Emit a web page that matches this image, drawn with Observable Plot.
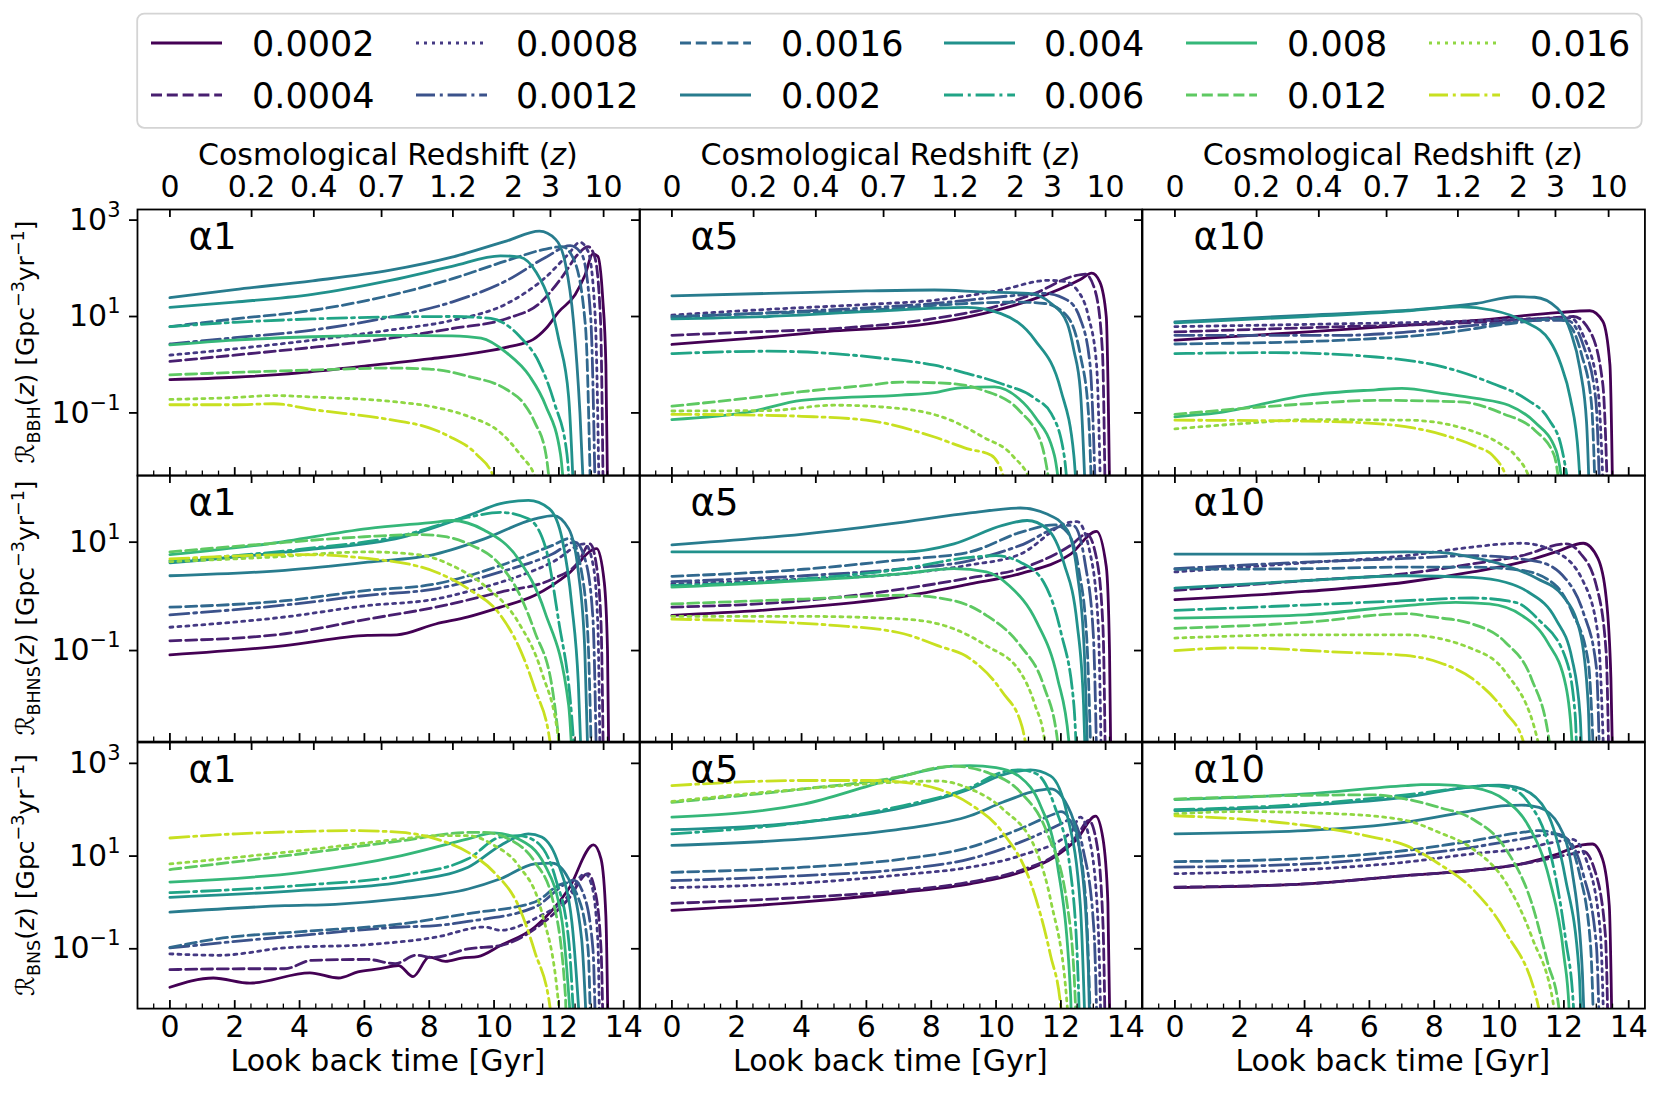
<!DOCTYPE html>
<html><head><meta charset="utf-8">
<script src="https://cdn.jsdelivr.net/npm/d3@7"></script>
<script src="https://cdn.jsdelivr.net/npm/@observablehq/plot@0.6"></script>
<style>
body{margin:0;background:#fff;font-family:"DejaVu Sans",sans-serif;}
#fig{position:relative;width:1661px;height:1094px;overflow:hidden;background:#fff;}
.abs{position:absolute;white-space:nowrap;color:#000;font-family:"DejaVu Sans",sans-serif;line-height:1;}
.panel{position:absolute;}
.rot{transform:translate(-50%,-50%) rotate(-90deg);transform-origin:center center;}
.cen{transform:translate(-50%,-50%);}
sub,sup{font-size:70%;line-height:0;}
</style></head><body><div id="fig"></div>
<script>
// ---------------- data (log10 of merger rate, Gpc^-3 yr^-1) vs look-back time [Gyr] ----------------
const METALLICITY = ["0.0002","0.0004","0.0008","0.0012","0.0016","0.002","0.004","0.006","0.008","0.012","0.016","0.02"];
const ALPHA = ["1","5","10"];
const TYPES = ["BBH","BHNS","BNS"];
const Z_TICK_LABELS = ["0","0.2","0.4","0.7","1.2","2","3","10"];
const Z_TICK_LOOKBACK = [0,2.52,4.44,6.53,8.73,10.6,11.74,13.38];
const T_TICKS = [0,2,4,6,8,10,12,14];

const BBH_a1 = [
 [[0,-0.31],[2,-0.26],[4,-0.17],[6,-0.03],[8,0.12],[9.5,0.25],[10.5,0.38],[11.2,0.52],[11.6,0.75],[12.0,1.1],[12.5,1.45],[12.8,1.85],[13.05,2.3],[13.2,2.25],[13.35,1.4],[13.45,0],[13.52,-3.5]],
 [[0,0.07],[2,0.2],[4.4,0.36],[6.8,0.55],[8.7,0.75],[10.4,0.96],[11.4,1.27],[12.1,1.82],[12.6,2.3],[12.9,2.45],[13.1,2.25],[13.28,1.0],[13.38,-3.5]],
 [[0,0.2],[2,0.33],[4.4,0.51],[6.8,0.72],[8.7,0.92],[10.4,1.27],[11.6,1.82],[12.3,2.3],[12.65,2.54],[12.9,2.35],[13.12,1.0],[13.26,-3.5]],
 [[0,0.43],[2,0.56],[4.4,0.72],[6.8,0.99],[8.7,1.3],[10.4,1.75],[11.6,2.23],[12.35,2.47],[12.7,2.3],[12.98,1.0],[13.14,-3.5]],
 [[0,0.79],[2,0.95],[4.4,1.13],[6.8,1.44],[8.7,1.78],[10.4,2.16],[11.6,2.4],[12.1,2.45],[12.45,2.2],[12.82,0.8],[13.0,-3.5]],
 [[0,1.39],[2,1.56],[4.4,1.74],[6.8,1.96],[8.7,2.23],[10.4,2.57],[11.4,2.77],[11.9,2.6],[12.2,2.1],[12.45,0.9],[12.65,-1.0],[12.82,-3.5]],
 [[0,1.19],[2,1.3],[4.4,1.46],[6.8,1.75],[8.7,2.04],[10.2,2.26],[10.8,2.23],[11.3,1.92],[11.7,1.34],[12.0,0.51],[12.3,-0.66],[12.5,-3.5]],
 [[0,0.79],[2,0.88],[4.4,0.95],[6.8,0.99],[8.7,1.0],[9.9,0.96],[10.8,0.58],[11.4,0.03],[11.86,-0.79],[12.25,-1.86],[12.4,-3.5]],
 [[0,0.41],[2,0.51],[4.4,0.58],[6.8,0.61],[8.7,0.6],[9.6,0.55],[10.4,0.24],[11.1,-0.24],[11.6,-0.86],[12.05,-1.86],[12.25,-3.5]],
 [[0,-0.21],[2,-0.16],[4.4,-0.11],[6.8,-0.07],[8,-0.09],[9.2,-0.24],[10.4,-0.52],[10.9,-0.79],[11.26,-1.2],[11.6,-1.86],[11.85,-3.5]],
 [[0,-0.72],[2,-0.68],[3.2,-0.64],[4.4,-0.67],[6.8,-0.76],[8,-0.86],[9.2,-1.07],[10.2,-1.41],[10.8,-1.86],[11.3,-2.4],[11.5,-3.5]],
 [[0,-0.83],[2,-0.83],[3.2,-0.81],[4.4,-0.93],[6.8,-1.14],[8,-1.31],[8.6,-1.48],[9.46,-1.86],[10.0,-2.35],[10.3,-3.5]]
];
const BBH_a5 = [
 [[0,0.42],[2.5,0.55],[5,0.7],[7.6,0.82],[9.6,1.06],[11.2,1.37],[12.6,1.77],[12.95,1.9],[13.2,1.72],[13.4,1.0],[13.52,-3.5]],
 [[0,0.61],[2.5,0.68],[5,0.75],[8.1,0.96],[10.15,1.24],[11.2,1.48],[12.4,1.84],[12.75,1.88],[13.05,1.55],[13.28,0.3],[13.38,-3.5]],
 [[0,1.03],[3,1.15],[6,1.25],[8.1,1.34],[10.15,1.55],[11.6,1.75],[12.1,1.73],[12.5,1.55],[12.85,1.0],[13.1,0],[13.25,-3.5]],
 [[0,0.98],[3,1.08],[6,1.18],[8.1,1.27],[10.15,1.41],[11.5,1.48],[12.2,1.34],[12.6,0.95],[12.9,0],[13.1,-3.5]],
 [[0,1.0],[3,1.07],[6,1.13],[9.1,1.27],[10.7,1.3],[11.5,1.27],[12.2,1.0],[12.6,0.2],[12.85,-1.0],[12.98,-3.5]],
 [[0,1.43],[3,1.48],[6,1.53],[8.1,1.55],[9.6,1.51],[11.0,1.48],[11.7,1.27],[12.2,0.85],[12.4,0.3],[12.6,-0.53],[12.8,-3.5]],
 [[0,0.95],[3,1.0],[6,1.1],[9.1,1.19],[10.15,1.06],[11.2,0.51],[12.0,-0.53],[12.4,-1.88],[12.55,-3.5]],
 [[0,0.23],[2.95,0.28],[5,0.23],[6.55,0.13],[8.1,-0.01],[9.1,-0.18],[10.15,-0.39],[11.2,-0.7],[11.7,-1.01],[12.1,-1.88],[12.3,-3.5]],
 [[0,-1.14],[2.4,-0.98],[4,-0.74],[7.07,-0.63],[8.1,-0.58],[8.9,-0.48],[9.95,-0.46],[10.7,-0.7],[11.2,-1.08],[11.8,-1.88],[12.1,-3.5]],
 [[0,-0.86],[2,-0.72],[4,-0.56],[6,-0.43],[7.07,-0.36],[8.6,-0.39],[9.6,-0.53],[10.7,-0.94],[11.4,-1.64],[11.85,-3.5]],
 [[0,-0.96],[3,-0.95],[5,-0.84],[7.07,-0.91],[8.6,-1.15],[9.6,-1.5],[10.5,-1.88],[11.1,-2.5],[11.3,-3.5]],
 [[0,-1.03],[2,-1.04],[4,-1.07],[6,-1.15],[8.1,-1.5],[9.1,-1.74],[9.85,-1.88],[10.3,-2.5],[10.5,-3.5]]
];
const BBH_a10 = [
 [[0,0.51],[4.1,0.68],[7.2,0.82],[9.3,0.92],[11.8,1.08],[12.8,1.12],[13.2,0.9],[13.42,0],[13.52,-3.5]],
 [[0,0.68],[5.2,0.79],[8.3,0.85],[11.35,0.96],[12.3,1.0],[12.8,0.7],[13.2,-0.4],[13.38,-3.5]],
 [[0,0.79],[5.2,0.85],[8.3,0.89],[11.35,0.96],[12.2,0.97],[12.6,0.6],[13.05,-0.5],[13.26,-3.5]],
 [[0,0.61],[5.2,0.61],[7.2,0.68],[9.3,0.82],[11.35,0.92],[12.1,0.92],[12.6,0.4],[12.98,-0.7],[13.14,-3.5]],
 [[0,0.43],[5.2,0.51],[8.3,0.66],[10.3,0.85],[11.8,0.95],[12.2,0.8],[12.55,0.2],[12.85,-0.8],[13.0,-3.5]],
 [[0,0.89],[4.1,1.03],[7.2,1.13],[9.3,1.27],[10.5,1.41],[11.1,1.4],[11.8,1.17],[12.2,0.7],[12.5,-0.1],[12.7,-1.2],[12.82,-3.5]],
 [[0,0.87],[4.1,1.0],[7.2,1.12],[8.8,1.2],[9.8,1.13],[10.8,0.89],[11.55,0.51],[11.9,0.02],[12.2,-0.7],[12.45,-1.9],[12.58,-3.5]],
 [[0,0.23],[3.1,0.25],[6.2,0.16],[8.3,-0.05],[9.8,-0.39],[10.8,-0.7],[11.55,-1.15],[11.9,-1.64],[12.35,-3.5]],
 [[0,-1.08],[1.3,-1.0],[4.1,-0.63],[6.2,-0.52],[7.0,-0.49],[8.3,-0.6],[9.3,-0.7],[10.3,-0.84],[11.1,-1.19],[11.76,-1.78],[12.15,-3.5]],
 [[0,-1.03],[4.1,-0.81],[6.2,-0.74],[8.8,-0.77],[10.1,-1.01],[11.1,-1.36],[11.7,-1.88],[12.0,-3.5]],
 [[0,-1.33],[2.1,-1.22],[4.1,-1.14],[7.2,-1.15],[9.1,-1.36],[10.1,-1.67],[10.5,-1.88],[11.0,-2.5],[11.2,-3.5]],
 [[0,-1.15],[4.1,-1.17],[6.2,-1.22],[8.3,-1.46],[9.3,-1.7],[9.8,-1.88],[10.3,-2.5],[10.5,-3.5]]
];
const BHNS_a1 = [
 [[0,-1.08],[3.55,-0.91],[6.1,-0.72],[7.0,-0.71],[8.2,-0.51],[9.2,-0.38],[10.2,-0.2],[11.26,0.02],[12.3,0.42],[13.17,0.88],[13.4,0.26],[13.5,-1.0],[13.55,-3.5]],
 [[0,-0.82],[3.55,-0.69],[6.1,-0.42],[8.2,-0.2],[10.2,0.08],[11.8,0.32],[12.6,0.63],[12.96,0.97],[13.15,0.6],[13.3,-0.5],[13.38,-3.5]],
 [[0,-0.57],[3.55,-0.38],[6.1,-0.17],[8.2,-0.05],[9.2,0.09],[10.2,0.26],[11.8,0.63],[12.8,0.97],[13.05,0.6],[13.2,-0.5],[13.28,-3.5]],
 [[0,-0.34],[3.55,-0.16],[6.1,0.02],[8.2,0.14],[10.2,0.45],[11.8,0.78],[12.5,1.0],[12.8,0.7],[13.05,-0.4],[13.17,-3.5]],
 [[0,-0.2],[3.55,-0.08],[6.1,0.11],[8.2,0.23],[10.2,0.57],[11.8,0.94],[12.35,1.07],[12.7,0.45],[12.9,-0.8],[13.02,-3.5]],
 [[0,0.38],[3.55,0.48],[6.1,0.63],[8.2,0.78],[9.7,1.06],[11.26,1.43],[11.83,1.49],[12.3,1.25],[12.6,0.45],[12.8,-1.0],[12.92,-3.5]],
 [[0,0.62],[4.06,0.85],[7.15,1.09],[9.2,1.49],[10.2,1.71],[11.06,1.77],[11.7,1.62],[12.1,1.06],[12.4,-0.17],[12.6,-1.6],[12.72,-3.5]],
 [[0,0.66],[4.06,0.87],[7.15,1.12],[9.2,1.46],[10.2,1.55],[11.06,1.43],[11.6,0.88],[12.0,-0.48],[12.35,-1.9],[12.55,-3.5]],
 [[0,0.77],[3.04,0.97],[6.1,1.25],[8.2,1.37],[8.7,1.4],[9.7,1.22],[10.75,0.69],[11.57,-0.29],[12.3,-2.0],[12.45,-3.5]],
 [[0,0.82],[3,0.97],[6,1.1],[7.66,1.14],[8.5,1.1],[9.2,0.97],[10.2,0.57],[10.75,0.08],[11.26,-0.66],[11.8,-1.71],[12.15,-3.5]],
 [[0,0.64],[3,0.72],[6.1,0.82],[7.66,0.77],[8.7,0.57],[9.7,0.2],[10.75,-0.48],[11.47,-1.4],[12.0,-2.7],[12.05,-3.5]],
 [[0,0.69],[4.06,0.77],[6.1,0.7],[8.2,0.45],[9.2,0.14],[10.2,-0.35],[10.75,-0.91],[11.26,-1.71],[11.73,-2.7],[11.8,-3.5]]
];
const BHNS_a5 = [
 [[0,-0.35],[4.06,-0.2],[7.15,0.0],[9.2,0.23],[10.75,0.42],[12.3,0.78],[13.1,1.2],[13.4,0.55],[13.5,-1.0],[13.55,-3.5]],
 [[0,-0.2],[4.06,-0.08],[7.15,0.14],[9.2,0.34],[10.75,0.51],[12.3,0.94],[12.8,1.15],[13.1,0.7],[13.3,-0.6],[13.38,-3.5]],
 [[0,0.23],[4.06,0.32],[7.15,0.42],[9.2,0.58],[10.75,0.78],[12.3,1.37],[12.5,1.38],[12.9,0.8],[13.15,-0.5],[13.26,-3.5]],
 [[0,0.27],[4.06,0.38],[7.15,0.51],[9.2,0.66],[10.75,0.94],[12.2,1.31],[12.4,1.3],[12.75,0.6],[13.0,-0.7],[13.12,-3.5]],
 [[0,0.37],[4.06,0.5],[7.15,0.68],[9.2,0.82],[10.75,1.18],[11.8,1.32],[12.2,1.18],[12.55,0.5],[12.8,-0.8],[12.95,-3.5]],
 [[0,0.95],[4.06,1.15],[7.15,1.37],[9.2,1.54],[10.75,1.63],[11.57,1.52],[12.2,1.22],[12.5,0.45],[12.72,-1.0],[12.85,-3.5]],
 [[0,0.82],[4.06,0.82],[7.15,0.82],[8.7,0.97],[10.2,1.31],[10.96,1.4],[11.57,1.25],[12.1,0.6],[12.5,-0.5],[12.7,-2.0],[12.78,-3.5]],
 [[0,0.2],[4.06,0.32],[7.15,0.51],[9.2,0.72],[10.0,0.75],[10.75,0.63],[11.47,0.26],[12.0,-0.66],[12.4,-2.0],[12.52,-3.5]],
 [[0,0.17],[4.06,0.29],[7.15,0.42],[8.7,0.51],[9.7,0.45],[10.4,0.2],[11.26,-0.48],[11.9,-1.52],[12.25,-2.7],[12.3,-3.5]],
 [[0,-0.14],[4.06,-0.05],[7.15,0.02],[8.7,-0.08],[9.7,-0.35],[10.75,-0.91],[11.47,-1.65],[11.9,-2.68],[11.95,-3.5]],
 [[0,-0.37],[4.06,-0.37],[7.15,-0.42],[8.7,-0.6],[9.7,-0.91],[10.75,-1.4],[11.2,-2.0],[11.5,-2.68],[11.55,-3.5]],
 [[0,-0.42],[5.1,-0.54],[7.15,-0.69],[8.2,-0.91],[9.2,-1.15],[10.2,-1.77],[10.8,-2.4],[11.1,-3.5]]
];
const BHNS_a10 = [
 [[0,-0.06],[4.03,0.09],[7.12,0.26],[9.18,0.45],[10.7,0.63],[11.75,0.82],[12.6,0.98],[13.05,0.7],[13.3,0.0],[13.45,-1.5],[13.52,-3.5]],
 [[0,0.11],[4.03,0.29],[7.12,0.42],[9.18,0.6],[10.7,0.75],[12.06,0.97],[12.5,0.8],[13.0,0.2],[13.3,-1.0],[13.4,-3.5]],
 [[0,0.45],[4.03,0.62],[7.12,0.75],[9.18,0.91],[10.2,0.97],[10.7,0.98],[11.75,0.82],[12.6,0.27],[13.05,-0.7],[13.26,-3.5]],
 [[0,0.51],[4.03,0.63],[7.12,0.7],[9.18,0.75],[11.2,0.64],[12.06,0.32],[12.6,-0.3],[13.0,-1.3],[13.12,-3.5]],
 [[0,0.5],[4.03,0.51],[7.12,0.54],[9.18,0.54],[10.7,0.48],[11.75,0.2],[12.26,-0.3],[12.75,-1.2],[12.95,-3.5]],
 [[0,0.78],[4.03,0.78],[7.12,0.82],[8.15,0.81],[9.18,0.72],[10.2,0.57],[11.2,0.32],[11.95,0.02],[12.5,-0.66],[12.75,-2.0],[12.82,-3.5]],
 [[0,0.15],[4.03,0.29],[7.12,0.38],[9.18,0.35],[10.2,0.26],[10.9,0.08],[11.75,-0.42],[12.25,-1.15],[12.5,-2.2],[12.58,-3.5]],
 [[0,-0.26],[4.03,-0.16],[7.12,-0.08],[9.18,-0.03],[10.5,-0.11],[11.2,-0.42],[12.06,-1.15],[12.35,-2.2],[12.42,-3.5]],
 [[0,-0.4],[4.03,-0.34],[7.12,-0.17],[8.66,-0.11],[9.7,-0.14],[10.7,-0.35],[11.5,-0.85],[12.06,-1.65],[12.25,-2.7],[12.3,-3.5]],
 [[0,-0.59],[4.03,-0.48],[7.12,-0.32],[7.94,-0.38],[9.18,-0.51],[10.2,-0.85],[11.0,-1.52],[11.55,-2.68],[11.6,-3.5]],
 [[0,-0.77],[4.03,-0.71],[7.12,-0.71],[9.18,-0.97],[10.2,-1.4],[11.2,-2.68],[11.25,-3.5]],
 [[0,-1.0],[2,-0.95],[5.06,-1.03],[7.12,-1.09],[8.15,-1.22],[9.18,-1.52],[10.2,-2.14],[10.75,-2.68],[10.8,-3.5]]
];
const BNS_a1 = [
 [[0,-1.83],[1.34,-1.63],[2.47,-1.74],[4.32,-1.52],[5.2,-1.63],[5.8,-1.5],[6.48,-1.43],[7.05,-1.36],[7.5,-1.6],[8.0,-1.18],[8.5,-1.27],[9.0,-1.2],[9.5,-1.17],[10.2,-0.93],[11.26,-0.53],[12.3,0.29],[13.07,1.24],[13.3,0.94],[13.45,-0.3],[13.53,-3.5]],
 [[0,-1.45],[2.5,-1.43],[3.55,-1.43],[4.37,-1.25],[6.1,-1.23],[6.95,-1.32],[7.6,-1.14],[8.1,-1.19],[9.2,-1.0],[10.2,-0.93],[11.26,-0.57],[12.3,0.08],[12.9,0.62],[13.1,0.3],[13.3,-1.0],[13.38,-3.5]],
 [[0,-1.11],[1.5,-1.14],[3.55,-0.98],[6.1,-0.91],[8.2,-0.75],[9.7,-0.53],[10.2,-0.6],[11.26,-0.35],[12.3,0.15],[12.8,0.62],[13.0,0.4],[13.2,-0.8],[13.27,-3.5]],
 [[0,-0.98],[4.06,-0.71],[7.15,-0.53],[8.2,-0.5],[9.2,-0.41],[11.26,-0.1],[12.3,0.44],[12.45,0.48],[12.75,0.2],[13.05,-1.0],[13.15,-3.5]],
 [[0,-0.97],[1.5,-0.78],[4.06,-0.63],[7.15,-0.46],[9.2,-0.24],[11.26,0.01],[12.1,0.4],[12.25,0.42],[12.6,0.1],[12.9,-1.0],[13.0,-3.5]],
 [[0,-0.21],[3.55,-0.07],[5.1,-0.04],[7.15,0.08],[9.2,0.29],[10.2,0.51],[11.26,0.83],[11.8,0.85],[12.3,0.51],[12.7,-0.78],[12.9,-3.5]],
 [[0,0.11],[4.06,0.26],[7.15,0.44],[9.2,0.76],[10.2,1.23],[11.06,1.48],[11.47,1.41],[12.0,0.8],[12.4,-0.42],[12.72,-3.5]],
 [[0,0.21],[4.06,0.37],[7.15,0.58],[9.2,0.94],[10.2,1.41],[10.75,1.44],[11.26,1.33],[11.9,0.51],[12.3,-0.8],[12.52,-3.5]],
 [[0,0.44],[4.06,0.65],[7.15,1.01],[9.2,1.37],[10.0,1.5],[10.75,1.37],[11.57,0.8],[12.1,-0.42],[12.45,-3.5]],
 [[0,0.71],[4.06,1.05],[7.15,1.33],[9.2,1.51],[9.7,1.51],[10.45,1.37],[11.26,0.87],[11.8,0.08],[12.2,-2.0],[12.25,-3.5]],
 [[0,0.83],[4.06,1.12],[7.15,1.37],[8.2,1.44],[9.2,1.44],[10.0,1.23],[10.75,0.8],[11.47,-0.21],[12.0,-2.28],[12.05,-3.5]],
 [[0,1.39],[2.06,1.48],[4.06,1.53],[5.6,1.55],[7.15,1.51],[8.2,1.37],[9.2,1.08],[10.0,0.65],[10.75,-0.07],[11.26,-1.07],[11.73,-2.28],[11.78,-3.5]]
];
const BNS_a5 = [
 [[0,-0.17],[4.06,0.01],[7.15,0.22],[9.2,0.4],[10.75,0.65],[11.8,0.98],[12.5,1.37],[13.07,1.86],[13.3,1.37],[13.45,0.0],[13.53,-3.5]],
 [[0,-0.02],[4.06,0.11],[7.15,0.26],[9.2,0.44],[10.75,0.69],[11.8,1.01],[12.5,1.44],[12.86,1.77],[13.1,1.3],[13.3,-0.5],[13.38,-3.5]],
 [[0,0.32],[4.06,0.42],[7.15,0.6],[9.2,0.76],[10.75,1.01],[12.3,1.51],[12.6,1.84],[12.9,1.3],[13.15,-0.5],[13.26,-3.5]],
 [[0,0.47],[4.06,0.58],[7.15,0.72],[9.2,0.94],[10.75,1.3],[12.1,1.73],[12.3,1.8],[12.7,1.1],[13.02,-0.6],[13.14,-3.5]],
 [[0,0.65],[4.06,0.76],[7.15,0.94],[9.2,1.19],[10.75,1.59],[11.8,1.91],[12.0,1.96],[12.4,1.6],[12.75,0.2],[12.95,-3.5]],
 [[0,1.23],[4.06,1.37],[7.15,1.59],[9.2,1.87],[10.2,2.16],[11.26,2.41],[11.68,2.45],[12.2,2.09],[12.6,1.01],[12.85,-1.5],[12.92,-3.5]],
 [[0,1.57],[4.06,1.73],[7.15,2.05],[9.2,2.45],[10.2,2.75],[11.06,2.86],[11.68,2.73],[12.2,1.87],[12.6,-0.07],[12.78,-3.5]],
 [[0,1.48],[4.06,1.73],[7.15,2.09],[9.2,2.48],[10.2,2.81],[10.75,2.86],[11.26,2.77],[11.8,2.09],[12.3,0.65],[12.55,-2.0],[12.6,-3.5]],
 [[0,1.84],[4.06,2.12],[6.1,2.52],[7.15,2.73],[8.7,2.94],[9.2,2.95],[10.0,2.91],[10.75,2.7],[11.37,2.09],[11.88,0.87],[12.3,-2.0],[12.35,-3.5]],
 [[0,2.16],[4.06,2.45],[7.15,2.73],[8.2,2.91],[8.7,2.94],[9.7,2.81],[10.75,2.38],[11.57,1.51],[12.2,-0.07],[12.45,-2.2],[12.5,-3.5]],
 [[0,2.18],[4.06,2.45],[7.15,2.6],[8.2,2.62],[9.2,2.45],[10.2,2.02],[11.26,1.08],[11.7,0.0],[12.2,-2.28],[12.25,-3.5]],
 [[0,2.52],[4.06,2.63],[6.1,2.63],[7.15,2.59],[8.2,2.45],[9.2,2.12],[10.2,1.51],[11.06,0.44],[11.68,-1.14],[12.0,-2.28],[12.05,-3.5]]
];
const BNS_a10 = [
 [[0,0.32],[4.03,0.4],[7.12,0.58],[9.18,0.69],[10.7,0.83],[11.75,1.03],[12.57,1.24],[12.88,1.26],[13.19,0.94],[13.4,-0.07],[13.5,-3.5]],
 [[0,0.33],[4.03,0.4],[7.12,0.58],[9.18,0.69],[10.7,0.83],[12.26,1.05],[12.6,1.1],[12.95,0.7],[13.28,-0.7],[13.38,-3.5]],
 [[0,0.62],[4.03,0.71],[7.12,0.87],[9.18,1.05],[10.7,1.16],[11.95,1.33],[12.26,1.36],[12.7,0.9],[13.12,-0.6],[13.26,-3.5]],
 [[0,0.76],[4.03,0.83],[7.12,1.01],[9.18,1.19],[10.7,1.37],[11.75,1.48],[12.2,1.3],[12.6,0.6],[13.0,-0.9],[13.12,-3.5]],
 [[0,0.88],[4.03,0.95],[7.12,1.12],[9.18,1.33],[10.7,1.51],[11.23,1.55],[12.06,1.37],[12.47,0.65],[12.82,-0.9],[12.95,-3.5]],
 [[0,1.48],[4.03,1.55],[7.12,1.73],[9.18,1.98],[10.2,2.09],[10.7,2.1],[11.23,2.05],[11.85,1.66],[12.26,0.65],[12.57,-1.5],[12.68,-3.5]],
 [[0,1.98],[4.03,2.09],[7.12,2.27],[9.18,2.5],[10.0,2.53],[10.7,2.45],[11.45,1.98],[12.05,0.51],[12.47,-1.5],[12.57,-3.5]],
 [[0,2.0],[4.03,2.12],[7.12,2.32],[8.66,2.45],[9.7,2.52],[10.4,2.45],[10.9,2.16],[11.55,1.16],[12.05,-0.78],[12.3,-2.3],[12.35,-3.5]],
 [[0,2.22],[4.03,2.34],[7.12,2.52],[7.6,2.54],[8.15,2.54],[9.18,2.48],[10.2,2.2],[10.9,1.66],[11.55,0.51],[12.0,-1.14],[12.16,-2.3],[12.2,-3.5]],
 [[0,2.23],[4.03,2.31],[6.1,2.32],[7.12,2.23],[8.15,2.05],[9.18,1.8],[10.2,1.16],[11.0,0.0],[11.5,-1.3],[11.85,-2.3],[11.9,-3.5]],
 [[0,1.91],[2.0,1.96],[5.06,1.91],[7.12,1.77],[8.15,1.51],[9.18,1.16],[10.2,0.44],[11.03,-0.78],[11.7,-2.3],[11.75,-3.5]],
 [[0,1.87],[2.0,1.8],[4.03,1.66],[6.1,1.41],[7.12,1.23],[8.15,0.83],[9.18,0.29],[10.2,-0.64],[11.23,-2.3],[11.3,-3.5]]
];
const PANELS = [[BBH_a1, BBH_a5, BBH_a10],[BHNS_a1, BHNS_a5, BHNS_a10],[BNS_a1, BNS_a5, BNS_a10]];

// ---------------- styling / layout ----------------
const COLORS = METALLICITY.map((_, i) => d3.interpolateViridis(i / 12));
const DASHED = "11,4.8", DOTTED = "3,5", DASHDOT = "19,4.8,3,4.8";
const DASH = [null, DASHED, DOTTED, DASHDOT, DASHED, null, null, DASHDOT, null, DASHED, DOTTED, DASHDOT];
const PX = [136.7, 639.13, 1141.56], PW = 502.43;
const PY = [209.3, 475.4, 741.5], PH = 266.1;
const X_DOMAIN = [-1.0, 14.5];
const Y_LOG = [[-2.30, 3.22], [-2.68, 2.23], [-2.29, 3.45]];
const Y_TICKS = [[1e3, 1e1, 1e-1], [1e1, 1e-1], [1e3, 1e1, 1e-1]];
const MINOR = d3.range(-0.5, 14.4, 0.5).filter(v => !T_TICKS.includes(v));
const ML = 110, MR = 20, MT = 80, MB = 70;
const FONT = "DejaVu Sans";
const fig = document.getElementById("fig");

function addDiv(html, x, y, cls, size) {
  const d = document.createElement("div");
  d.className = "abs " + cls;
  d.style.left = x + "px"; d.style.top = y + "px"; d.style.fontSize = size + "px";
  d.innerHTML = html;
  fig.appendChild(d);
  return d;
}

for (let r = 0; r < 3; r++) {
  for (let c = 0; c < 3; c++) {
    const series = PANELS[r][c];
    const marks = [];
    series.forEach((pts, i) => {
      const d = pts.map(([t, v]) => ({t, rate: Math.pow(10, v)}));
      marks.push(Plot.line(d, {x: "t", y: "rate", stroke: COLORS[i], strokeWidth: 2.8,
        strokeDasharray: DASH[i] || undefined, curve: "monotone-x", clip: true}));
    });
    marks.push(Plot.frame({stroke: "#000", strokeWidth: 1.8}));
    marks.push(Plot.ruleX(T_TICKS, {x: d => d, insetTop: PH - 8, stroke: "#000", strokeWidth: 1.8}));
    marks.push(Plot.ruleX(MINOR, {x: d => d, insetTop: PH - 4.5, stroke: "#000", strokeWidth: 1.3}));
    marks.push(Plot.ruleX(Z_TICK_LOOKBACK, {x: d => d, insetBottom: PH - 8, stroke: "#000", strokeWidth: 1.8}));
    marks.push(Plot.axisY({anchor: "left", ticks: Y_TICKS[r], tickSize: 8, tickPadding: 9, strokeWidth: 1.8,
      tickFormat: c === 0 ? (d => String(Math.round(Math.log10(d)))) : (() => ""), fontSize: 30, label: null}));
    if (r === 2) marks.push(Plot.axisX({anchor: "bottom", ticks: T_TICKS, tickSize: 0, tickPadding: 7, fontSize: 30,
      tickFormat: d => String(d), label: null}));
    if (r === 0) marks.push(Plot.axisX({anchor: "top", ticks: Z_TICK_LOOKBACK, tickSize: 0, tickPadding: 12, fontSize: 30,
      tickFormat: d => Z_TICK_LABELS[Z_TICK_LOOKBACK.indexOf(d)], label: null}));
    marks.push(Plot.text([ALPHA[c]], {frameAnchor: "top-left", dx: 51, dy: 40, text: d => "α" + d,
      textAnchor: "start", lineAnchor: "bottom", fontSize: 37, ariaLabel: "alpha"}));

    const svg = Plot.plot({
      width: PW + ML + MR, height: PH + MT + MB,
      marginLeft: ML, marginRight: MR, marginTop: MT, marginBottom: MB,
      x: {domain: X_DOMAIN, axis: null},
      y: {type: "log", domain: [Math.pow(10, Y_LOG[r][0]), Math.pow(10, Y_LOG[r][1])], axis: null},
      style: {background: "transparent", overflow: "visible", maxWidth: "none", fontFamily: FONT, fontSize: "30px", color: "#000"},
      marks
    });
    // superscript exponents on the y tick labels
    d3.select(svg).selectAll('g[aria-label="y-axis tick label"] text').each(function () {
      const e = this.textContent;
      if (!e) return;
      const t = d3.select(this); t.text("");
      t.append("tspan").text("10");
      t.append("tspan").attr("dy", "-0.62em").attr("font-size", "21px").text(e.replace("-", "\u2212"));
    });
    // italic alpha, upright digits
    d3.select(svg).selectAll('g[aria-label="alpha"] text').each(function () {
      const s = this.textContent.slice(1);
      const t = d3.select(this); t.text("");
      t.append("tspan").attr("font-style", "italic").text("α");
      t.append("tspan").text(s);
    });
    const wrap = document.createElement("div");
    wrap.className = "panel";
    wrap.style.left = (PX[c] - ML) + "px";
    wrap.style.top = (PY[r] - MT) + "px";
    wrap.appendChild(svg);
    fig.appendChild(wrap);
  }
}

// axis titles
for (let c = 0; c < 3; c++) {
  addDiv("Cosmological Redshift (<i>z</i>)", PX[c] + PW / 2, 155, "cen", 30);
  addDiv("Look back time [Gyr]", PX[c] + PW / 2, 1061, "cen", 30);
}
for (let r = 0; r < 3; r++) {
  addDiv("ℛ<sub>" + TYPES[r] + "</sub>(<i>z</i>) [Gpc<sup>−3</sup>yr<sup>−1</sup>]", 25, PY[r] + PH / 2, "rot", 25);
}

// legend
const leg = d3.select(fig).append("svg").attr("width", 1661).attr("height", 140)
  .style("position", "absolute").style("left", "0px").style("top", "0px");
leg.append("rect").attr("x", 137.2).attr("y", 13.6).attr("width", 1504.5).attr("height", 114.2)
  .attr("rx", 7).attr("fill", "#fff").attr("stroke", "#d4d4d4").attr("stroke-width", 1.8);
const LEG_LINE_X = [151, 416, 680, 944, 1186, 1429], LEG_TEXT_X = [252, 516, 781, 1044, 1287, 1530], LEG_ROW_Y = [43, 95];
METALLICITY.forEach((lab, i) => {
  const c = Math.floor(i / 2), r = i % 2;
  leg.append("line").attr("x1", LEG_LINE_X[c]).attr("x2", LEG_LINE_X[c] + 71)
    .attr("y1", LEG_ROW_Y[r]).attr("y2", LEG_ROW_Y[r]).attr("stroke", COLORS[i]).attr("stroke-width", 2.8)
    .attr("stroke-dasharray", DASH[i]);
  leg.append("text").attr("x", LEG_TEXT_X[c]).attr("y", LEG_ROW_Y[r] + 12.5).attr("font-family", FONT)
    .attr("font-size", 35).attr("fill", "#000").text(lab);
});
</script></body></html>
